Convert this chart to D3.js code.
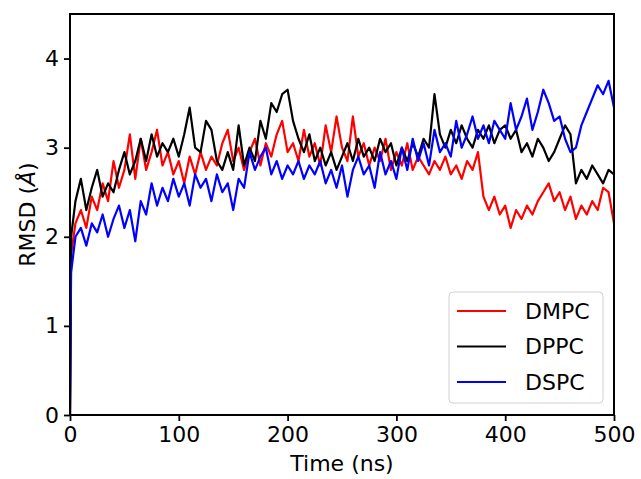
<!DOCTYPE html>
<html>
<head>
<meta charset="utf-8">
<script src="https://d3js.org/d3.v7.min.js"></script>
<style>
  body { margin: 0; background: #fff; }
  text { font-family: "DejaVu Sans", sans-serif; fill: #000; }
</style>
</head>
<body>
<div id="chart"></div>
<script>
// sample times (ns)
const times = [0, 1, 5, 10, 15, 20, 25, 30, 35, 40, 45, 50, 55, 60, 65, 70, 75, 80, 85, 90, 95,
  100, 105, 110, 115, 120, 125, 130, 135, 140, 145, 150, 155, 160, 165, 170, 175, 180, 185, 190, 195,
  200, 205, 210, 215, 220, 225, 230, 235, 240, 245, 250, 255, 260, 265, 270, 275, 280, 285, 290, 295,
  300, 305, 310, 315, 320, 325, 330, 335, 340, 345, 350, 355, 360, 365, 370, 375, 380, 385, 390, 395,
  400, 405, 410, 415, 420, 425, 430, 435, 440, 445, 450, 455, 460, 465, 470, 475, 480, 485, 490, 495, 500];

const dmpc = [0, 1.8, 2.15, 2.3, 2.1, 2.45, 2.3, 2.6, 2.4, 2.85, 2.55, 2.75, 3.15, 2.65, 3.1, 2.75, 2.95, 3.2, 2.8, 2.95, 2.7,
  2.85, 2.6, 2.9, 2.7, 2.95, 2.75, 2.9, 2.8, 3.05, 3.2, 2.85, 3.0, 2.75, 2.95, 3.1, 2.8, 3.05, 2.9, 3.15, 3.3,
  2.95, 3.05, 2.85, 3.2, 2.9, 3.05, 2.8, 3.25, 2.95, 3.35, 3.0, 2.85, 3.35, 2.9, 3.05, 2.8, 3.0, 2.85, 3.1, 2.75,
  2.95, 2.8, 3.05, 2.75, 2.9, 2.8, 2.7, 2.85, 2.75, 2.9, 2.7, 2.8, 2.65, 2.85, 2.75, 2.95, 2.45, 2.3, 2.45, 2.25,
  2.35, 2.1, 2.3, 2.2, 2.35, 2.25, 2.4, 2.5, 2.6, 2.4, 2.5, 2.3, 2.45, 2.2, 2.35, 2.25, 2.4, 2.3, 2.55, 2.5, 2.15];

const dppc = [0, 2.0, 2.4, 2.65, 2.3, 2.55, 2.75, 2.45, 2.6, 2.5, 2.75, 2.95, 2.7, 2.85, 3.1, 2.85, 3.15, 2.9, 3.05, 2.95, 3.1,
  2.9, 3.15, 3.45, 3.0, 2.95, 3.3, 3.2, 2.85, 2.75, 2.95, 2.75, 3.25, 2.8, 3.0, 2.85, 3.3, 3.1, 3.5, 3.4, 3.6,
  3.65, 3.3, 3.1, 2.95, 3.15, 2.85, 3.0, 2.8, 2.95, 2.75, 2.9, 3.05, 2.85, 3.1, 2.9, 3.0, 2.85, 3.1, 2.95, 3.05,
  2.8, 3.0, 2.85, 3.05, 2.9, 3.1, 3.0, 3.6, 3.15, 3.0, 3.2, 3.05, 3.25, 3.1, 3.0, 3.2, 3.1, 3.25, 3.05, 3.2,
  3.25, 3.1, 3.2, 2.95, 3.05, 2.9, 3.1, 3.0, 2.85, 2.95, 3.1, 3.25, 3.15, 2.6, 2.75, 2.65, 2.8, 2.7, 2.6, 2.75, 2.7];

const dspc = [0, 1.6, 2.0, 2.1, 1.9, 2.15, 2.05, 2.25, 2.0, 2.2, 2.35, 2.1, 2.3, 1.95, 2.4, 2.25, 2.6, 2.35, 2.55, 2.4, 2.65,
  2.45, 2.6, 2.35, 2.7, 2.55, 2.65, 2.4, 2.7, 2.5, 2.6, 2.3, 2.65, 2.55, 2.95, 2.75, 2.9, 3.0, 2.7, 2.85, 2.65,
  2.8, 2.7, 2.85, 2.65, 2.8, 2.7, 2.85, 2.6, 2.75, 2.55, 2.8, 2.45, 2.75, 2.9, 2.7, 2.8, 2.55, 2.95, 2.7, 2.85,
  2.65, 3.0, 2.75, 3.1, 2.85, 3.05, 2.8, 3.2, 2.95, 3.05, 2.9, 3.3, 3.0, 3.15, 3.35, 3.1, 3.25, 3.05, 3.3, 3.2,
  3.1, 3.5, 3.2, 3.35, 3.55, 3.2, 3.4, 3.65, 3.5, 3.3, 3.35, 3.1, 2.95, 3.0, 3.25, 3.4, 3.55, 3.7, 3.6, 3.75, 3.45];

const seriesNames = ["DMPC", "DPPC", "DSPC"];
const seriesColors = ["#ff0000", "#000000", "#0000ff"];
const seriesValues = [dmpc, dppc, dspc];

const xTicks = [0, 100, 200, 300, 400, 500];
const yTicks = [0, 1, 2, 3, 4];

const W = 641, H = 479;
const margin = { top: 14, right: 27, bottom: 64, left: 70 };
const width = W - margin.left - margin.right;
const height = H - margin.top - margin.bottom;

const svg = d3.select("#chart").append("svg")
  .attr("width", W)
  .attr("height", H);

const g = svg.append("g")
  .attr("transform", `translate(${margin.left},${margin.top})`);

const x = d3.scaleLinear().domain([0, 500]).range([0, width]);
const y = d3.scaleLinear().domain([0, 4.5]).range([height, 0]);

// lines
const line = d3.line()
  .x((d, i) => x(times[i]))
  .y(d => y(d));

g.append("defs").append("clipPath").attr("id", "clip")
  .append("rect").attr("width", width).attr("height", height);

seriesValues.forEach((vals, k) => {
  g.append("path")
    .datum(vals)
    .attr("clip-path", "url(#clip)")
    .attr("fill", "none")
    .attr("stroke", seriesColors[k])
    .attr("stroke-width", 2.2)
    .attr("stroke-linejoin", "round")
    .attr("d", line);
});

// axes
const xAxis = g.append("g")
  .attr("transform", `translate(0,${height})`)
  .call(d3.axisBottom(x).tickValues(xTicks).tickSize(6).tickPadding(5).tickFormat(d3.format("d")));
const yAxis = g.append("g")
  .call(d3.axisLeft(y).tickValues(yTicks).tickSize(6).tickPadding(5).tickFormat(d3.format("d")));

[xAxis, yAxis].forEach(a => {
  a.select(".domain").remove();
  a.selectAll("line").attr("stroke", "#000").attr("stroke-width", 1.8);
  a.selectAll("text").style("font-size", "22px").style("font-family", "DejaVu Sans");
});

// frame
g.append("rect")
  .attr("width", width)
  .attr("height", height)
  .attr("fill", "none")
  .attr("stroke", "#000")
  .attr("stroke-width", 2);

// axis labels
svg.append("text")
  .attr("x", margin.left + width / 2)
  .attr("y", 471)
  .attr("text-anchor", "middle")
  .style("font-size", "22px")
  .text("Time (ns)");

const yl = svg.append("text")
  .attr("transform", `translate(35,${margin.top + height / 2}) rotate(-90)`)
  .attr("text-anchor", "middle")
  .style("font-size", "22px");
yl.append("tspan").text("RMSD (");
yl.append("tspan").style("font-style", "italic").text("Å");
yl.append("tspan").text(")");

// legend
const leg = svg.append("g").attr("transform", "translate(449,292)");
leg.append("rect")
  .attr("width", 154)
  .attr("height", 111)
  .attr("rx", 4)
  .attr("fill", "#fff")
  .attr("fill-opacity", 0.8)
  .attr("stroke", "#d0d0d0")
  .attr("stroke-width", 1);

seriesNames.forEach((name, k) => {
  const row = leg.append("g").attr("transform", `translate(0,${19 + k * 35.5})`);
  row.append("line")
    .attr("x1", 8).attr("x2", 57)
    .attr("stroke", seriesColors[k])
    .attr("stroke-width", 2);
  row.append("text")
    .attr("x", 76)
    .attr("dy", "0.36em")
    .style("font-size", "22px")
    .text(name);
});
</script>
</body>
</html>
